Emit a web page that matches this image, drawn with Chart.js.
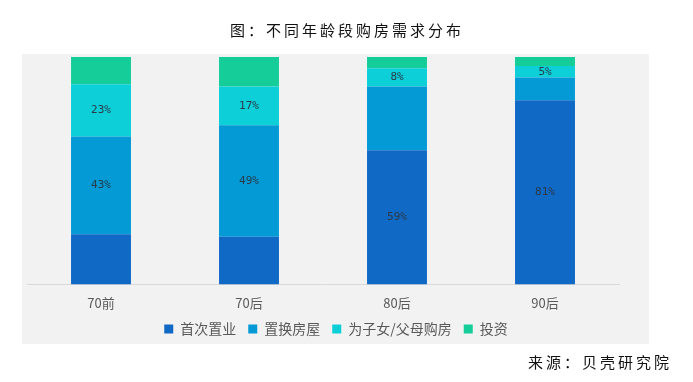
<!DOCTYPE html>
<html>
<head>
<meta charset="utf-8">
<script src="https://cdn.jsdelivr.net/npm/chart.js@4/dist/chart.umd.min.js"></script>
<style>
html,body{margin:0;padding:0;background:#fff;}
#wrap{width:693px;height:382px;position:relative;}
</style>
</head>
<body>
<div id="wrap"><canvas id="c" width="693" height="382"></canvas></div>
<script>
const categories = ['70前', '70后', '80后', '90后'];
const seriesNames = ['首次置业', '置换房屋', '为子女/父母购房', '投资'];
const firstHome = [22, 21, 59, 81];
const upgrade = [43, 49, 28, 10];
const forFamily = [23, 17, 8, 5];
const invest = [12, 13, 5, 4];
// which values carry a printed label in the reference
const showFirstHome = [false, false, true, true];
const showUpgrade = [true, true, false, false];
const showForFamily = [true, true, true, true];
const showInvest = [false, false, false, false];
const titleText = '图：不同年龄段购房需求分布';
const sourceText = '来源：贝壳研究院';

const colors = ['#1169c6', '#039ad5', '#0ccfd8', '#15cd98'];
const seriesData = [firstHome, upgrade, forFamily, invest];
const showData = [showFirstHome, showUpgrade, showForFamily, showInvest];

const decor = {
  id: 'decor',
  afterLayout(chart) {
    const lg = chart.legend;
    if (lg) {
      lg.top -= 12; lg.bottom -= 12;
      lg.left += 13; lg.right += 13;
    }
  },
  beforeDraw(chart) {
    const ctx = chart.ctx;
    ctx.save();
    ctx.fillStyle = '#f2f2f2';
    ctx.fillRect(22, 54, 627, 290);
    ctx.restore();
  },
  afterDraw(chart) {
    const ctx = chart.ctx;
    ctx.save();
    ctx.fillStyle = '#111';
    ctx.textBaseline = 'middle';
    ctx.font = '15px "Noto Sans CJK SC"';
    try { ctx.letterSpacing = '3px'; } catch (e) {}
    ctx.textAlign = 'center';
    ctx.fillText(titleText, 347, 30);
    ctx.textAlign = 'right';
    ctx.fillText(sourceText, 672, 362);
    ctx.restore();
  }
};

const barLabels = {
  id: 'barLabels',
  afterDatasetsDraw(chart) {
    const ctx = chart.ctx;
    ctx.save();
    ctx.font = '11px "DejaVu Sans Mono"';
    ctx.fillStyle = '#2a3a48';
    ctx.textAlign = 'center';
    ctx.textBaseline = 'middle';
    chart.data.datasets.forEach((ds, di) => {
      const meta = chart.getDatasetMeta(di);
      meta.data.forEach((bar, i) => {
        if (!showData[di][i]) return;
        const y = (bar.y + bar.base) / 2;
        ctx.fillText(ds.data[i] + '%', bar.x, y);
      });
    });
    ctx.restore();
  }
};

new Chart(document.getElementById('c'), {
  type: 'bar',
  data: {
    labels: categories,
    datasets: seriesNames.map((n, i) => ({
      label: n,
      data: seriesData[i],
      backgroundColor: colors[i],
      borderWidth: 0,
      categoryPercentage: 1,
      barPercentage: 0.405
    }))
  },
  options: {
    responsive: false,
    animation: false,
    layout: { padding: { top: 57, left: 27, right: 74, bottom: 24 } },
    scales: {
      x: {
        stacked: true,
        grid: { display: false, drawTicks: false },
        border: { display: true, color: '#d9d9d9', width: 1 },
        ticks: { color: '#595959', font: { size: 13, family: '"Noto Sans CJK SC"' }, padding: 11 }
      },
      y: {
        stacked: true,
        display: false,
        min: 0,
        max: 100
      }
    },
    plugins: {
      legend: {
        position: 'bottom',
        labels: {
          boxWidth: 9,
          boxHeight: 9,
          padding: 12,
          color: '#595959',
          font: { size: 14, family: '"Noto Sans CJK SC"' }
        }
      },
      tooltip: { enabled: false },
      title: { display: false }
    }
  },
  plugins: [decor, barLabels]
});
</script>
</body>
</html>
